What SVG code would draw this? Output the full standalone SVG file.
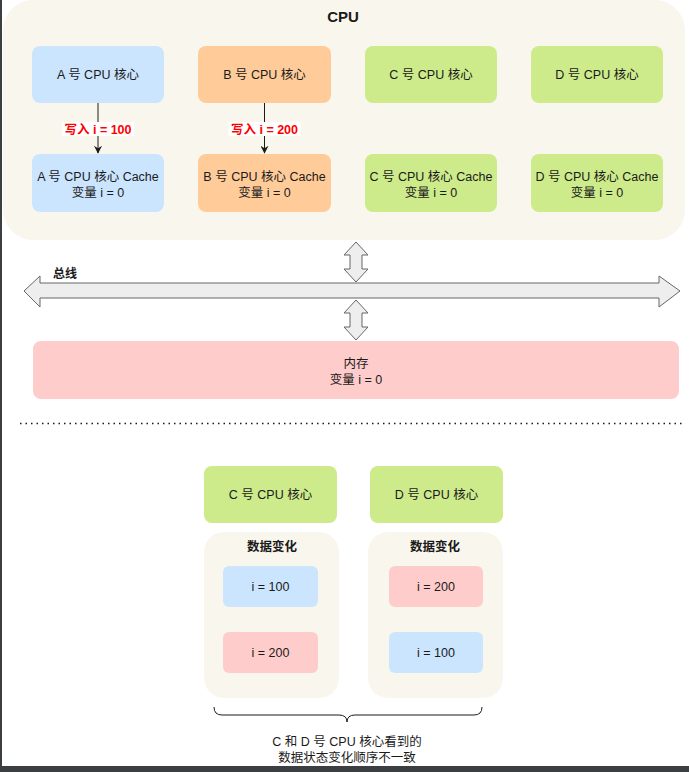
<svg xmlns="http://www.w3.org/2000/svg" width="689" height="772" viewBox="0 0 689 772">
<defs>
<style>
.t{font-family:"Liberation Sans","Noto Sans CJK SC",sans-serif;font-size:12.5px;fill:#1a1a1a;text-anchor:middle}
.b{font-weight:bold}
.red{font-family:"Liberation Sans","Noto Sans CJK SC",sans-serif;font-size:12.5px;font-weight:bold;fill:#ff0000;text-anchor:middle}
.blue{fill:#cce5ff}
.orange{fill:#ffcc99}
.green{fill:#cdeb8b}
.pink{fill:#ffcccc}
.cont{fill:#f9f7ed}
.arr{fill:#eeeeee;stroke:#666666;stroke-width:1}
.ln{stroke:#1a1a1a;stroke-width:1;fill:none}
</style>
<marker id="ah" viewBox="0 0 10 10" refX="9" refY="5" markerWidth="8" markerHeight="8" markerUnits="userSpaceOnUse" orient="auto">
<path d="M0,0 L10,5 L0,10 L3,5 Z" fill="#1a1a1a"/>
</marker>
</defs>
<rect width="689" height="772" fill="#ffffff"/>
<rect x="0" y="0" width="2" height="772" fill="#3c3f41"/>
<rect x="0" y="766" width="689" height="6" fill="#3c3f41"/>

<g id="cpu">
<rect x="3" y="0" width="682" height="240" rx="30" class="cont"/>
<text x="343" y="22" class="t b" style="font-size:15px">CPU</text>
</g>

<g id="coreA"><rect x="32" y="46" width="132" height="57" rx="8" class="blue"/><text x="98" y="79" class="t">A 号 CPU 核心</text></g>
<g id="coreB"><rect x="198" y="46" width="133" height="57" rx="8" class="orange"/><text x="264.5" y="79" class="t">B 号 CPU 核心</text></g>
<g id="coreC"><rect x="365" y="46" width="132" height="57" rx="8" class="green"/><text x="431" y="79" class="t">C 号 CPU 核心</text></g>
<g id="coreD"><rect x="531" y="46" width="132" height="57" rx="8" class="green"/><text x="597" y="79" class="t">D 号 CPU 核心</text></g>

<g id="cacheA"><rect x="32" y="154" width="132" height="58" rx="8" class="blue"/><text x="98" y="181" class="t">A 号 CPU 核心 Cache</text><text x="98" y="197" class="t">变量 i  = 0</text></g>
<g id="cacheB"><rect x="198" y="154" width="133" height="58" rx="8" class="orange"/><text x="264.5" y="181" class="t">B 号 CPU 核心 Cache</text><text x="264.5" y="197" class="t">变量 i  = 0</text></g>
<g id="cacheC"><rect x="365" y="154" width="132" height="58" rx="8" class="green"/><text x="431" y="181" class="t">C 号 CPU 核心 Cache</text><text x="431" y="197" class="t">变量 i  = 0</text></g>
<g id="cacheD"><rect x="531" y="154" width="132" height="58" rx="8" class="green"/><text x="597" y="181" class="t">D 号 CPU 核心 Cache</text><text x="597" y="197" class="t">变量 i  = 0</text></g>

<g id="memory"><rect x="33" y="341" width="646" height="58" rx="8" class="pink"/><text x="356" y="368" class="t">内存</text><text x="356" y="384" class="t">变量 i = 0</text></g>

<g id="bus">
<path class="arr" d="M24,291 L40,276 L40,283 L659,283 L659,276 L680,291 L659,307 L659,298 L40,298 L40,307 Z"/>
<text x="65" y="278" class="t b" style="font-size:12px">总线</text>
</g>

<g id="connectors">
<line x1="98" y1="103" x2="98" y2="153" class="ln" marker-end="url(#ah)"/>
<line x1="264.5" y1="103" x2="264.5" y2="153" class="ln" marker-end="url(#ah)"/>
<rect x="62" y="122" width="72" height="14" fill="#ffffff"/>
<text x="98" y="134" class="red">写入 i = 100</text>
<rect x="228.5" y="122" width="72" height="14" fill="#ffffff"/>
<text x="264.5" y="134" class="red">写入 i = 200</text>
<path class="arr" d="M356,242 L368,255 L362,255 L362,269 L368,269 L356,282 L344,269 L350,269 L350,255 L344,255 Z"/>
<path class="arr" d="M356,300 L368,313 L362,313 L362,327 L368,327 L356,340 L344,327 L350,327 L350,313 L344,313 Z"/>
</g>

<line x1="20" y1="423.5" x2="685" y2="423.5" stroke="#1a1a1a" stroke-width="1.5" stroke-dasharray="1.5 4"/>

<g id="coreC2"><rect x="204" y="466" width="133" height="57" rx="8" class="green"/><text x="270.5" y="499" class="t">C 号 CPU 核心</text></g>
<g id="coreD2"><rect x="370" y="466" width="133" height="57" rx="8" class="green"/><text x="436.5" y="499" class="t">D 号 CPU 核心</text></g>

<g id="changeC">
<rect x="204" y="532" width="135" height="166" rx="20" class="cont"/>
<text x="272" y="551" class="t b">数据变化</text>
<rect x="223" y="566" width="95" height="41" rx="6" class="blue"/><text x="270.5" y="591" class="t">i = 100</text>
<rect x="223" y="632" width="95" height="41" rx="6" class="pink"/><text x="270.5" y="657" class="t">i = 200</text>
</g>
<g id="changeD">
<rect x="368" y="532" width="135" height="166" rx="20" class="cont"/>
<text x="435" y="551" class="t b">数据变化</text>
<rect x="389" y="566" width="94" height="41" rx="6" class="pink"/><text x="436" y="591" class="t">i = 200</text>
<rect x="389" y="632" width="94" height="41" rx="6" class="blue"/><text x="436" y="657" class="t">i = 100</text>
</g>

<g id="brace">
<path class="ln" stroke="#333333" d="M214,707 Q214,715 222,715 L339,715 Q347,715 347,722 Q347,715 355,715 L474,715 Q482,715 482,707"/>
<text x="347" y="746" class="t">C 和 D 号 CPU 核心看到的</text>
<text x="347" y="762" class="t">数据状态变化顺序不一致</text>
</g>
</svg>
